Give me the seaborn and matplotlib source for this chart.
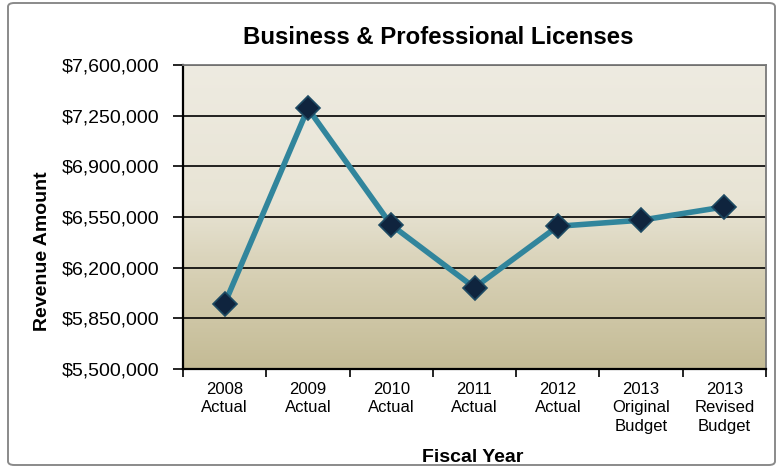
import numpy as np
import pandas as pd
import matplotlib
matplotlib.use("Agg")
import matplotlib.pyplot as plt
from matplotlib.colors import LinearSegmentedColormap
from matplotlib.patches import FancyBboxPatch
from matplotlib.ticker import StrMethodFormatter, FixedLocator
import seaborn as sns

# Revenue by fiscal year
categories = ["2008\nActual", "2009\nActual", "2010\nActual", "2011\nActual",
              "2012\nActual", "2013\nOriginal\nBudget", "2013\nRevised\nBudget"]
revenue = [5951000, 7300000, 6495000, 6062000, 6486000, 6528000, 6620000]
y_ticks = [5500000, 5850000, 6200000, 6550000, 6900000, 7250000, 7600000]

title = "Business & Professional Licenses"
x_label = "Fiscal Year"
y_label = "Revenue Amount"

sns.set_theme(style="white")
plt.rcParams["font.family"] = ["Liberation Sans", "DejaVu Sans"]

W, H = 784, 470
fig = plt.figure(figsize=(W / 100, H / 100), dpi=100)
fig.patch.set_facecolor("white")

# rounded chart border
border = FancyBboxPatch((8 / W, 5 / H), (775 - 8) / W, (467 - 5) / H,
                        boxstyle="round,pad=0,rounding_size=0.008",
                        transform=fig.transFigure, facecolor="none",
                        edgecolor="#8a8a8a", linewidth=1.4)
fig.patches.append(border)

ax = fig.add_axes([183 / W, 1 - 369 / H, (766 - 183) / W, (369 - 65) / H])

df = pd.DataFrame({"year": categories, "revenue": revenue})

# plot-area gradient (light parchment at top to tan at bottom)
grad_cmap = LinearSegmentedColormap.from_list(
    "parchment",
    [(0.0, "#c4bb95"), (0.30, "#d6cfb3"), (0.55, "#e8e4d5"), (1.0, "#eeebe1")])
grad = np.linspace(0, 1, 256).reshape(-1, 1)
ax.imshow(grad, aspect="auto", cmap=grad_cmap, origin="lower",
          extent=[-0.5, 6.5, y_ticks[0], y_ticks[-1]], zorder=0)

sns.lineplot(data=df, x="year", y="revenue", ax=ax, sort=False,
             color="#31859c", linewidth=4.0, marker="D", markersize=12,
             markerfacecolor="#0f243e", markeredgecolor="#1d4a63",
             markeredgewidth=1.2, zorder=3)

ax.set_xlim(-0.5, 6.5)
ax.set_ylim(y_ticks[0], y_ticks[-1])
ax.yaxis.set_major_locator(FixedLocator(y_ticks))
ax.yaxis.set_major_formatter(StrMethodFormatter("${x:,.0f}"))
ax.grid(axis="y", color="black", linewidth=1.2, zorder=1)
ax.set_axisbelow(True)
for gl in ax.get_ygridlines():
    gl.set_zorder(1)

# category labels centred, ticks at category boundaries
ax.set_xticks(range(len(categories)))
ax.set_xticklabels(categories, fontsize=12, linespacing=1.3, color="black")
ax.set_xticks(np.arange(-0.5, 7, 1.0), minor=True)
ax.tick_params(axis="x", which="major", length=0, pad=9)
ax.tick_params(axis="x", which="minor", length=6, width=1.2, color="black",
               direction="out", bottom=True)
ax.tick_params(axis="y", length=7, width=1.2, color="black", direction="out",
               left=True, labelsize=14, pad=10, labelcolor="black")

for side in ["left", "bottom"]:
    ax.spines[side].set_color("black")
    ax.spines[side].set_linewidth(1.6)
for side in ["top", "right"]:
    ax.spines[side].set_visible(True)
    ax.spines[side].set_color("#7a7a7a")
    ax.spines[side].set_linewidth(1.3)

ax.set_xlabel("")
ax.set_ylabel("")

fig.text(438 / W, 1 - 38 / H, title, ha="center", va="center",
         fontsize=17.3, fontweight="bold", color="black")
fig.text(473 / W, 1 - 457 / H, x_label, ha="center", va="center",
         fontsize=14, fontweight="bold", color="black")
fig.text(43 / W, 1 - 251 / H, y_label, ha="center", va="center",
         rotation=90, fontsize=14, fontweight="bold", color="black")

fig.savefig("out.png", dpi=100)
